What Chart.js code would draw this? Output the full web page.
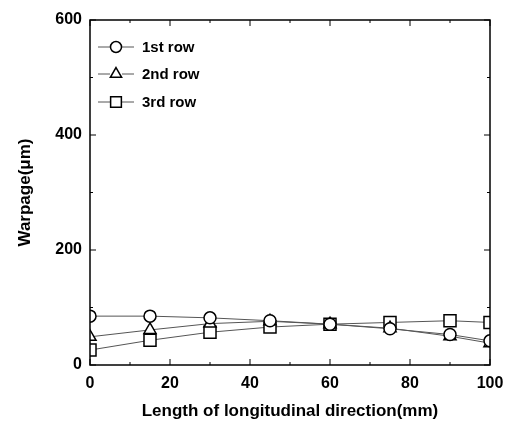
<!DOCTYPE html>
<html>
<head>
<meta charset="utf-8">
<script src="https://cdn.jsdelivr.net/npm/chart.js@4.4.0/dist/chart.umd.min.js"></script>
<style>
  html, body { margin: 0; padding: 0; background: #fff; }
  #wrap { width: 519px; height: 428px; }
</style>
</head>
<body>
<div id="wrap"><canvas id="chart" width="519" height="428"></canvas></div>
<script>
// positions along the strip (mm)
var positions = [0, 15, 30, 45, 60, 75, 90, 100];
// warpage in micrometres
var row1 = [85, 85, 82, 77, 71, 63, 53, 42];
var row2 = [49, 61, 72, 76, 71, 64, 50, 38];
var row3 = [26, 43, 57, 66, 71, 74, 77, 74];
var seriesNames = ['1st row', '2nd row', '3rd row'];
var markerStyles = ['circle', 'triangle', 'rect'];
var xTicks = [0, 20, 40, 60, 80, 100];
var yTicks = [0, 200, 400, 600];

var fontFam = '"Liberation Sans", Arial, sans-serif';
var markerSize = { circle: 6, triangle: 7, rect: 8.5 };
var legendSize = { circle: 5.5, triangle: 6.5, rect: 7.6 };

function toPoints(vals) {
    return positions.map(function (x, i) { return { x: x, y: vals[i] }; });
}

function makeSet(label, vals, style) {
    return {
        label: label,
        data: toPoints(vals),
        borderColor: '#555',
        borderWidth: 1,
        pointStyle: style,
        pointRadius: markerSize[style],
        pointBorderColor: '#000',
        pointBorderWidth: 1.5,
        pointBackgroundColor: '#fff',
        clip: 0,
        tension: 0
    };
}

// frame, inward ticks and the in-plot legend
var framePlugin = {
    id: 'frame',
    afterDraw: function (chart) {
        var c = chart.ctx, a = chart.chartArea;
        var xs = chart.scales.x, ys = chart.scales.y;
        c.save();
        c.strokeStyle = '#000';
        c.lineWidth = 1.5;
        c.strokeRect(a.left, a.top, a.right - a.left, a.bottom - a.top);
        c.lineWidth = 1;
        c.beginPath();
        for (var v = 0; v <= 100; v += 10) {
            var px = xs.getPixelForValue(v);
            var len = v % 20 === 0 ? 6 : 3;
            c.moveTo(px, a.bottom); c.lineTo(px, a.bottom - len);
            c.moveTo(px, a.top); c.lineTo(px, a.top + len);
        }
        for (var w = 0; w <= 600; w += 100) {
            var py = ys.getPixelForValue(w);
            var l2 = w % 200 === 0 ? 6 : 3;
            c.moveTo(a.left, py); c.lineTo(a.left + l2, py);
            c.moveTo(a.right, py); c.lineTo(a.right - l2, py);
        }
        c.stroke();

        // legend
        var rowsY = [47, 74, 102];
        chart.data.datasets.forEach(function (ds, i) {
            var y = rowsY[i];
            c.strokeStyle = '#555';
            c.lineWidth = 1;
            c.beginPath();
            c.moveTo(98, y); c.lineTo(110, y);
            c.moveTo(122, y); c.lineTo(134, y);
            c.stroke();
            c.strokeStyle = '#000';
            c.lineWidth = 1.5;
            c.fillStyle = '#fff';
            Chart.helpers.drawPoint(c, {
                pointStyle: markerStyles[i],
                radius: legendSize[markerStyles[i]],
                borderWidth: 1.5,
                rotation: 0
            }, 116, y);
            c.fillStyle = '#000';
            c.font = 'bold 15px ' + fontFam;
            c.textAlign = 'left';
            c.textBaseline = 'middle';
            c.fillText(seriesNames[i], 142, y + 1);
        });
        c.restore();
    }
};

new Chart(document.getElementById('chart').getContext('2d'), {
    type: 'line',
    data: {
        datasets: [
            makeSet(seriesNames[0], row1, markerStyles[0]),
            makeSet(seriesNames[1], row2, markerStyles[1]),
            makeSet(seriesNames[2], row3, markerStyles[2])
        ]
    },
    options: {
        responsive: false,
        animation: false,
        layout: { padding: { top: 20, right: 29, left: 0, bottom: 0 } },
        plugins: { legend: { display: false }, tooltip: { enabled: false } },
        scales: {
            x: {
                type: 'linear',
                min: 0, max: 100,
                afterFit: function (s) { s.height = 63; },
                afterBuildTicks: function (s) { s.ticks = xTicks.map(function (v) { return { value: v }; }); },
                grid: { display: false, drawTicks: false },
                border: { display: false },
                ticks: { color: '#000', padding: 9, maxRotation: 0, font: { family: fontFam, size: 16, weight: 'bold' } },
                title: {
                    display: true,
                    text: 'Length of longitudinal direction(mm)',
                    color: '#000',
                    font: { family: fontFam, size: 17, weight: 'bold' },
                    padding: { top: 0, bottom: 6 }
                }
            },
            y: {
                type: 'linear',
                min: 0, max: 600,
                afterFit: function (s) { s.width = 90; },
                afterBuildTicks: function (s) { s.ticks = yTicks.map(function (v) { return { value: v }; }); },
                grid: { display: false, drawTicks: false },
                border: { display: false },
                ticks: { color: '#000', padding: 8, font: { family: fontFam, size: 16, weight: 'bold' } },
                title: {
                    display: true,
                    text: 'Warpage(μm)',
                    color: '#000',
                    font: { family: fontFam, size: 17, weight: 'bold' },
                    padding: { top: 15, bottom: 0 }
                }
            }
        }
    },
    plugins: [framePlugin]
});
</script>
</body>
</html>
